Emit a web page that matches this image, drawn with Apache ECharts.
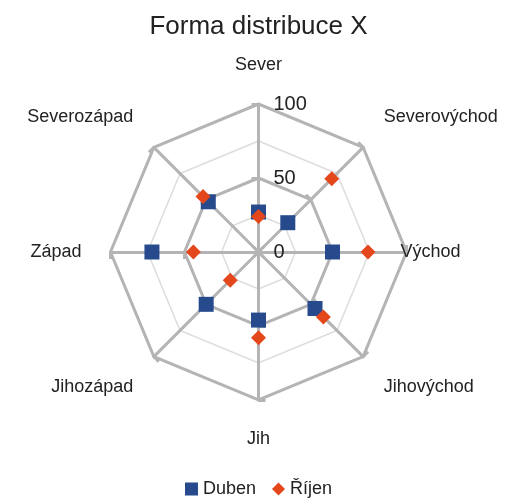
<!DOCTYPE html>
<html>
<head>
	<meta charset="UTF-8">
	<title>Forma distribuce X</title>
	<script src="https://cdn.jsdelivr.net/npm/echarts@6/dist/echarts.min.js"></script>
	<style>
		html, body { margin: 0; padding: 0; background: #fff; }
		#chart { width: 517px; height: 499px; }
	</style>
</head>
<body>
	<div id="chart"></div>
	<script>
		// smery v poradi po smeru hodinovych rucicek od severu
		var smery = ['Sever', 'Severovýchod', 'Východ', 'Jihovýchod', 'Jih', 'Jihozápad', 'Západ', 'Severozápad'];
		var duben = [27, 28, 50, 54, 46, 50, 72, 48];
		var rijen = [24, 70, 74, 62, 58, 27, 44, 53];
		var maxHodnota = 100;

		// echarts kresli radar proti smeru hodinovych rucicek
		var poradi = [0, 7, 6, 5, 4, 3, 2, 1];

		// odsazeni popisku jednotlivych os
		var mezery = { 'Východ': -6 };
		var nahore = ['Severovýchod', 'Severozápad'];
		var dole = ['Jihovýchod', 'Jihozápad'];

		var font = '"Liberation Sans", Arial, sans-serif';
		var seda = '#b4b4b4';

		function indikatory(prvni) {
			return poradi.map(function (i) {
				var ind = { name: smery[i], max: maxHodnota, min: 0 };
				ind.nameGap = mezery[smery[i]] != null ? mezery[smery[i]] : 29;
				if (prvni && i === 0) ind.axisLabel = { show: true };
				return ind;
			});
		}

		var stred = [258.5, 252];
		var polomer = 148;

		var myChart = echarts.init(document.getElementById('chart'));

		var option = {
			backgroundColor: '#fff',
			animation: false,
			title: {
				text: 'Forma distribuce X',
				left: 'center',
				top: 9,
				textStyle: { fontFamily: font, fontSize: 26, fontWeight: 'normal', color: '#222' }
			},
			legend: {
				bottom: -4,
				left: 'center',
				itemWidth: 13,
				itemHeight: 13,
				itemGap: 16,
				textStyle: { fontFamily: font, fontSize: 18, color: '#222' },
				data: [
					{ name: 'Duben', icon: 'rect' },
					{ name: 'Říjen', icon: 'diamond' }
				]
			},
			radar: [{
				// tenke mezikruzi 25 / 75
				center: stred,
				radius: polomer,
				startAngle: 90,
				splitNumber: 4,
				shape: 'polygon',
				indicator: indikatory(false),
				axisName: { show: false },
				axisLine: { show: false },
				splitArea: { show: false },
				splitLine: { lineStyle: { color: '#dcdcdc', width: 1.5 } }
			}, {
				// hlavni mrizka 50 / 100
				center: stred,
				radius: polomer,
				startAngle: 90,
				splitNumber: 2,
				shape: 'polygon',
				indicator: indikatory(true),
				axisName: {
					color: '#222', fontFamily: font, fontSize: 18, lineHeight: 20,
					formatter: function (name) {
						if (nahore.indexOf(name) >= 0) return name + '\n ';
						if (dole.indexOf(name) >= 0) return ' \n' + name;
						return name;
					}
				},
				axisLine: { lineStyle: { color: seda, width: 3 } },
				axisTick: { show: true, length: 7, lineStyle: { color: seda, width: 3 } },
				axisLabel: { show: false, color: '#222', fontFamily: font, fontSize: 20, margin: -15, align: 'left' },
				splitArea: { show: false },
				splitLine: { lineStyle: { color: seda, width: 3 } }
			}, {
				// druha polovina carek na osach
				center: stred,
				radius: polomer,
				startAngle: 90,
				splitNumber: 2,
				shape: 'polygon',
				indicator: indikatory(false),
				axisName: { show: false },
				axisLine: { show: false },
				axisTick: { show: true, inside: true, length: 7, lineStyle: { color: seda, width: 3 } },
				splitArea: { show: false },
				splitLine: { show: false }
			}],
			series: [{
				name: 'Duben',
				type: 'radar',
				radarIndex: 1,
				symbol: 'rect',
				symbolSize: 15,
				itemStyle: { color: '#264a8c' },
				lineStyle: { width: 0, opacity: 0 },
				data: [{ name: 'Duben', value: poradi.map(function (i) { return duben[i]; }) }]
			}, {
				name: 'Říjen',
				type: 'radar',
				radarIndex: 1,
				symbol: 'diamond',
				symbolSize: 15,
				itemStyle: { color: '#e4471c' },
				lineStyle: { width: 0, opacity: 0 },
				data: [{ name: 'Říjen', value: poradi.map(function (i) { return rijen[i]; }) }]
			}]
		};

		myChart.setOption(option);
	</script>
</body>
</html>
